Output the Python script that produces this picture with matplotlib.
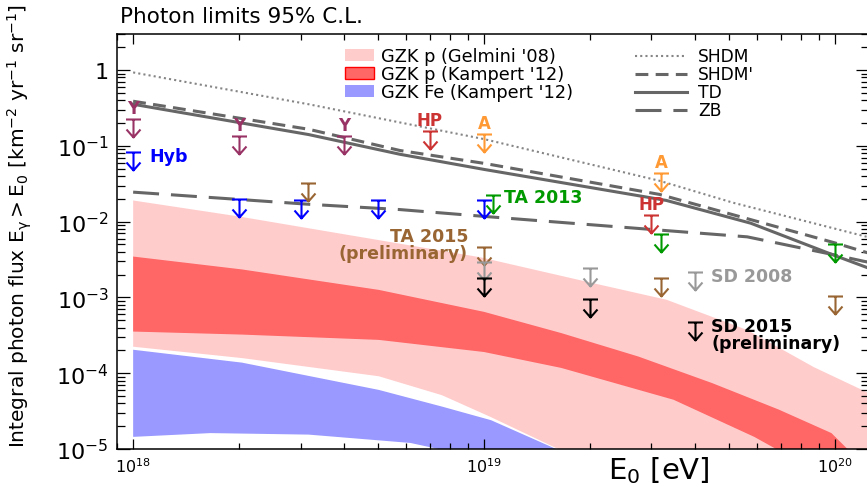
import numpy as np
import matplotlib
matplotlib.use("Agg")
import matplotlib.pyplot as plt
from matplotlib.path import Path
from matplotlib.patches import Patch
from matplotlib.lines import Line2D
from matplotlib.ticker import FixedLocator, FixedFormatter, NullFormatter

plt.rcParams['font.family'] = ['DejaVu Sans']
plt.rcParams['mathtext.fontset'] = 'dejavusans'

# ---------------- data (log10 E/eV, log10 flux) ----------------
shdm_logE = [18.0, 18.5, 18.76, 19.0, 19.5, 19.71, 20.1]
shdm_logF = [-0.03, -0.45, -0.69, -0.91, -1.46, -1.75, -2.21]

shdmp_logE = [18.0, 18.5, 18.76, 19.0, 19.5, 20.0, 20.1]
shdmp_logF = [-0.41, -0.78, -1.06, -1.23, -1.64, -2.28, -2.42]

td_logE = [18.0, 18.5, 18.76, 19.0, 19.52, 19.76, 19.99, 20.1]
td_logF = [-0.45, -0.85, -1.11, -1.31, -1.72, -2.02, -2.43, -2.62]

zb_logE = [18.0, 18.5, 18.76, 19.0, 19.47, 19.75, 19.99, 20.1]
zb_logF = [-1.61, -1.77, -1.84, -1.93, -2.10, -2.20, -2.43, -2.54]

# GZK p (Gelmini '08) band
gel_up_logE = [18.0, 18.30, 18.99, 19.30, 19.52, 19.75, 19.94, 20.1]
gel_up_logF = [-1.72, -1.93, -2.47, -2.80, -3.03, -3.43, -3.92, -4.27]
gel_lo_logE = [18.0, 18.31, 18.70, 18.88, 19.02, 19.22, 20.1]
gel_lo_logF = [-3.65, -3.80, -4.04, -4.29, -4.58, -5.02, -5.5]

# GZK p (Kampert '12) band
kam_up_logE = [18.0, 18.31, 18.70, 19.0, 19.22, 19.44, 19.65, 19.84, 19.99, 20.04, 20.1]
kam_up_logF = [-2.46, -2.63, -2.90, -3.19, -3.47, -3.78, -4.13, -4.48, -4.79, -5.02, -5.3]
kam_lo_logE = [18.0, 18.31, 18.70, 19.0, 19.22, 19.54, 19.77, 19.84, 20.1]
kam_lo_logF = [-3.45, -3.49, -3.56, -3.72, -3.93, -4.35, -4.84, -5.02, -5.6]

# GZK Fe (Kampert '12) band
fe_up_logE = [18.0, 18.31, 18.70, 18.88, 19.02, 19.22]
fe_up_logF = [-3.69, -3.86, -4.22, -4.44, -4.62, -5.03]
fe_lo_logE = [18.0, 18.22, 18.50, 18.79, 18.90]
fe_lo_logF = [-4.84, -4.79, -4.81, -4.92, -5.03]

# Upper limits (E in eV, flux)
y_E = [1e18, 2e18, 4e18]
y_F = [0.225, 0.134, 0.134]
hyb_E = [1e18, 2e18, 3e18, 5e18, 1e19]
hyb_F = [0.0822, 0.0197, 0.0191, 0.0191, 0.0191]
hp_E = [7e18, 3.0e19]
hp_F = [0.156, 0.0121]
a_E = [1e19, 3.2e19]
a_F = [0.142, 0.0434]
ta13_E = [1.06e19, 3.2e19, 1e20]
ta13_F = [0.0222, 0.00698, 0.0050]
ta15_E = [3.15e18, 1e19, 3.2e19, 1e20]
ta15_F = [0.032, 0.00457, 0.0018, 0.00103]
sd08_E = [1e19, 2e19, 4e19]
sd08_F = [0.00297, 0.00248, 0.00214]
sd15_E = [1e19, 2e19, 4e19]
sd15_F = [0.00183, 0.00094, 0.00047]

ytick_vals = [1e-5, 1e-4, 1e-3, 1e-2, 1e-1, 1]
ytick_labels = ['$10^{-5}$', '$10^{-4}$', '$10^{-3}$', '$10^{-2}$', '$10^{-1}$', '1']
xtick_vals = [1e18, 1e19, 1e20]
xtick_labels = ['$10^{18}$', '$10^{19}$', '$10^{20}$']

# ---------------- figure ----------------
W, H = 867, 489
fig = plt.figure(figsize=(W / 100, H / 100), dpi=100)
ax = fig.add_axes([117 / W, 1 - 450 / H, (869 - 117) / W, (450 - 35) / H])
ax.set_xscale('log')
ax.set_yscale('log')
ax.set_xlim(10 ** 17.954, 10 ** 20.097)
ax.set_ylim(1e-5, 3.0)

def p10(a):
    return 10 ** np.asarray(a, dtype=float)

def band(upE, upF, loE, loF, color):
    xs = np.concatenate([p10(upE), p10(loE)[::-1]])
    ys = np.concatenate([p10(upF), p10(loF)[::-1]])
    ax.fill(xs, ys, color=color, lw=0, zorder=1)

band(gel_up_logE, gel_up_logF, gel_lo_logE, gel_lo_logF, '#ffcccc')
band(kam_up_logE, kam_up_logF, kam_lo_logE, kam_lo_logF, '#ff6666')
band(fe_up_logE, fe_up_logF, fe_lo_logE, fe_lo_logF, '#9999ff')

lc = '#666666'
ax.plot(p10(shdm_logE), p10(shdm_logF), color='#858585', lw=1.5, ls=(0, (1, 1.5)), zorder=2)
ax.plot(p10(shdmp_logE), p10(shdmp_logF), color=lc, lw=2.2, ls=(0, (4.2, 2.4)), zorder=2)
ax.plot(p10(td_logE), p10(td_logF), color=lc, lw=2.2, ls='-', zorder=2)
ax.plot(p10(zb_logE), p10(zb_logF), color=lc, lw=2.2, ls=(0, (8.5, 3.9)), zorder=2)

# upper-limit marker: cap + downward arrow
verts = [(-7.5, 0), (7.5, 0), (0, 0), (0, -18), (-7, -10), (0, -18), (7, -10)]
codes = [Path.MOVETO, Path.LINETO, Path.MOVETO, Path.LINETO, Path.MOVETO, Path.LINETO, Path.LINETO]
ul = Path(verts, codes)

def limits(E, F, color):
    ax.plot(E, F, ls='none', marker=ul, markersize=25.9, mfc='none', mec=color, mew=1.5, zorder=4)

c_y, c_hyb, c_hp, c_a = '#993366', '#0000ff', '#cc3333', '#ff9933'
c_ta13, c_ta15, c_sd08, c_sd15 = '#009900', '#996633', '#999999', '#000000'
limits(y_E, y_F, c_y)
limits(hyb_E, hyb_F, c_hyb)
limits(hp_E, hp_F, c_hp)
limits(a_E, a_F, c_a)
limits(ta15_E, ta15_F, c_ta15)
limits(sd08_E, sd08_F, c_sd08)
limits(sd15_E, sd15_F, c_sd15)
limits(ta13_E, ta13_F, c_ta13)

fs_lab = 12.5
def lab(text, E, F, color, dx, dy, ha='center', va='bottom', size=fs_lab, **kw):
    ax.annotate(text, xy=(E, F), xytext=(dx, dy), textcoords='offset pixels',
                ha=ha, va=va, color=color, fontsize=size, fontweight='bold', zorder=5, **kw)

for e, f in zip(y_E, y_F):
    lab('Y', e, f, c_y, 0, 2, size=12)
for e, f in zip(hp_E, hp_F):
    lab('HP', e, f, c_hp, 0, 2, size=12)
for e, f in zip(a_E, a_F):
    lab('A', e, f, c_a, 0, 2, size=12)
lab('Hyb', hyb_E[0], hyb_F[0], c_hyb, 16, -4, ha='left', va='center')
lab('TA 2013', ta13_E[0], ta13_F[0], c_ta13, 11, -2, ha='left', va='center')
lab('TA 2015\n(preliminary)', ta15_E[1], ta15_F[1], c_ta15, -16, 3, ha='right', va='center',
    multialignment='right', linespacing=0.9)
lab('SD 2008', sd08_E[2], sd08_F[2], c_sd08, 16, -4, ha='left', va='center')
lab('SD 2015\n(preliminary)', sd15_E[2], sd15_F[2], c_sd15, 16, -12, ha='left', va='center',
    multialignment='left', linespacing=0.9)

# ---------------- axes styling ----------------
ax.yaxis.set_major_locator(FixedLocator(ytick_vals))
ax.yaxis.set_major_formatter(FixedFormatter(ytick_labels))
ax.xaxis.set_major_locator(FixedLocator(xtick_vals))
ax.xaxis.set_major_formatter(FixedFormatter(xtick_labels))
ax.yaxis.set_minor_formatter(NullFormatter())
ax.xaxis.set_minor_formatter(NullFormatter())
ax.tick_params(which='both', direction='in', top=True, right=True, width=0.9, color='black')
ax.tick_params(axis='y', which='major', length=9.5, labelsize=16, pad=6)
ax.tick_params(axis='y', which='minor', length=5.5)
ax.tick_params(axis='x', which='major', length=7.5, labelsize=11.5, pad=5)
ax.tick_params(axis='x', which='minor', length=4.5)
for s in ax.spines.values():
    s.set_linewidth(1.1)

ax.set_ylabel(r'Integral photon flux $\mathregular{E_{\gamma}>E_0}$ [km$^{-2}$ yr$^{-1}$ sr$^{-1}$]',
              fontsize=14.5, va='center')
ax.yaxis.set_label_coords(-0.129, 0.54)
ax.set_xlabel(r'$\mathregular{E_0}$ [eV]', fontsize=21, va='center')
ax.xaxis.set_label_coords(0.72, -0.05)

fig.text(120 / W, 1 - 17 / H, 'Photon limits 95% C.L.', fontsize=15.5, ha='left', va='center')

# ---------------- legends ----------------
h1 = [Patch(facecolor='#ffcccc', edgecolor='none'),
      Patch(facecolor='#ff6666', edgecolor='#ff0000', linewidth=1.0),
      Patch(facecolor='#9999ff', edgecolor='none')]
l1 = ["GZK p (Gelmini '08)", "GZK p (Kampert '12)", "GZK Fe (Kampert '12)"]
leg1 = ax.legend(h1, l1, loc='upper left', bbox_to_anchor=(345 / W, 1 - 48 / H),
                 bbox_transform=fig.transFigure, frameon=False, fontsize=12.8,
                 handlelength=1.65, handleheight=0.65, handletextpad=0.35,
                 labelspacing=0.0, borderpad=0, borderaxespad=0)
ax.add_artist(leg1)
h2 = [Line2D([], [], color='#858585', lw=1.5, ls=(0, (1, 1.5))),
      Line2D([], [], color=lc, lw=2.2, ls=(0, (4.2, 2.4))),
      Line2D([], [], color=lc, lw=2.2, ls='-'),
      Line2D([], [], color=lc, lw=2.2, ls=(0, (8.5, 3.9)))]
l2 = ['SHDM', "SHDM'", 'TD', 'ZB']
leg2 = ax.legend(h2, l2, loc='upper left', bbox_to_anchor=(635 / W, 1 - 48.5 / H),
                 bbox_transform=fig.transFigure, frameon=False, fontsize=12.3,
                 handlelength=3.05, handletextpad=0.63,
                 labelspacing=0.0, borderpad=0, borderaxespad=0)

fig.savefig('out.png', dpi=100)
